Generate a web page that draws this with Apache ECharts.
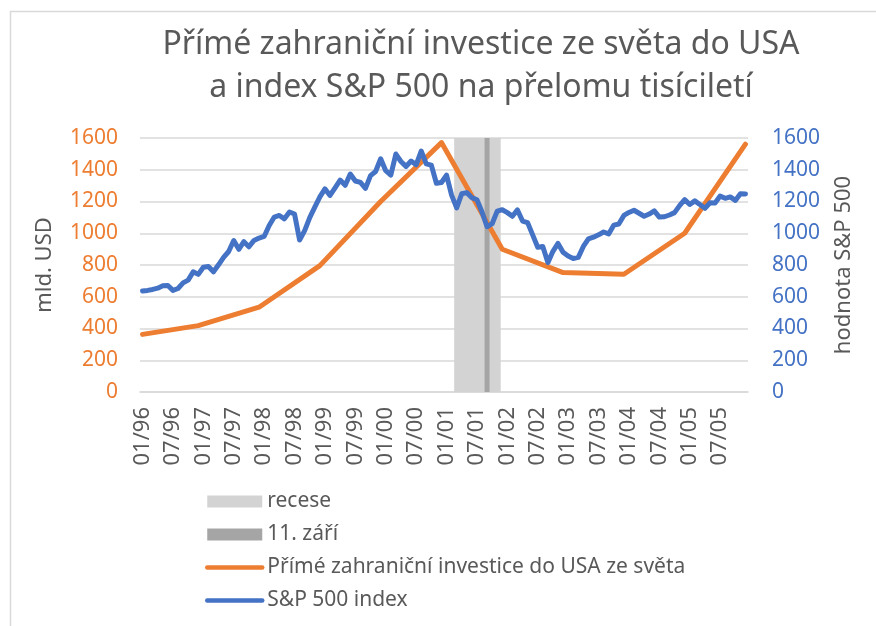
<!DOCTYPE html>
<html>
<head>
<meta charset="utf-8">
<script src="https://cdn.jsdelivr.net/npm/echarts@6/dist/echarts.min.js"></script>
<style>
  html, body { margin: 0; padding: 0; background: #fff; }
  #chart { width: 876px; height: 626px; }
</style>
</head>
<body>
<div id="chart"></div>
<script>
// měsíce 01/96 .. 12/05
var years = ['96', '97', '98', '99', '00', '01', '02', '03', '04', '05'];
var months = [];
years.forEach(function (y) {
  for (var m = 1; m <= 12; m++) months.push((m < 10 ? '0' + m : '' + m) + '/' + y);
});

// S&P 500 - měsíční hodnoty
var sp500 = [
  636, 640, 646, 654, 669, 671, 640, 652, 687, 705, 757, 741,
  786, 791, 757, 801, 848, 885, 954, 899, 947, 915, 955, 970,
  980, 1049, 1102, 1112, 1091, 1134, 1121, 957, 1017, 1099, 1164, 1229,
  1280, 1238, 1286, 1335, 1302, 1373, 1329, 1320, 1283, 1363, 1389, 1469,
  1394, 1366, 1499, 1452, 1421, 1455, 1431, 1518, 1437, 1429, 1315, 1320,
  1366, 1240, 1160, 1249, 1256, 1224, 1211, 1134, 1041, 1060, 1139, 1148,
  1130, 1107, 1147, 1077, 1067, 990, 912, 916, 815, 886, 936, 880,
  856, 841, 848, 917, 964, 975, 990, 1008, 996, 1051, 1058, 1112,
  1131, 1145, 1126, 1107, 1121, 1141, 1102, 1104, 1115, 1130, 1174, 1212,
  1181, 1204, 1181, 1157, 1192, 1191, 1234, 1220, 1229, 1207, 1249, 1248
];

// přímé zahraniční investice (mld. USD) - roční body
var fdiMonths = ['01/96', '12/96', '12/97', '12/98', '12/99', '12/00', '12/01', '12/02', '12/03', '12/04', '12/05'];
var fdiValues = [363, 418, 534, 796, 1200, 1571, 899, 752, 742, 1000, 1561];

// recese a 11. září
var recessionStart = '03/01';
var recessionEnd = '11/01';
var attackMonth = '09/01';
var barTop = 1600;

var fdiData = months.map(function (m) {
  var i = fdiMonths.indexOf(m);
  return i >= 0 ? fdiValues[i] : null;
});
var rs = months.indexOf(recessionStart), re = months.indexOf(recessionEnd);
var recessionData = months.map(function (m, i) { return (i >= rs && i <= re) ? barTop : '-'; });
var attackData = months.map(function (m) { return m === attackMonth ? barTop : '-'; });

var FONT = 'Noto Sans';
var GREY = '#595959';
var hideDot = { color: 'rgba(0,0,0,0)', borderWidth: 0 };
var chart = echarts.init(document.getElementById('chart'));
var option = {
  backgroundColor: '#fff',
  animation: false,
  textStyle: { fontFamily: FONT },
  graphic: [
    { type: 'rect', shape: { x: 10.5, y: 11.5, width: 900, height: 700 },
      style: { fill: 'none', stroke: '#d9d9d9', lineWidth: 1.5 }, silent: true },
    { type: 'text', x: 481, y: 45, style: { text: 'Přímé zahraniční investice ze světa do USA',
      fill: GREY, font: '32px "Noto Sans"', textAlign: 'center', textVerticalAlign: 'middle' } },
    { type: 'text', x: 481, y: 88, style: { text: 'a index S&P 500 na přelomu tisíciletí',
      fill: GREY, font: '32px "Noto Sans"', textAlign: 'center', textVerticalAlign: 'middle' } }
  ],
  grid: { left: 140, right: 128, top: 138, bottom: 234 },
  legend: {
    orient: 'vertical', left: 205, top: 491, height: 140, padding: 0,
    itemWidth: 55, itemHeight: 12, itemGap: 12,
    textStyle: { color: GREY, fontSize: 21, fontFamily: FONT },
    lineStyle: { width: 4.5 },
    data: [
      { name: 'recese', icon: 'rect' },
      { name: '11. září', icon: 'rect' },
      { name: 'Přímé zahraniční investice do USA ze světa', itemStyle: hideDot },
      { name: 'S&P 500 index', itemStyle: hideDot }
    ]
  },
  xAxis: {
    type: 'category', data: months, boundaryGap: true,
    axisLine: { lineStyle: { color: '#d9d9d9', width: 1.5 } },
    axisTick: { show: false },
    axisLabel: { interval: 5, rotate: 90, color: GREY, fontSize: 22, margin: 15, fontFamily: FONT }
  },
  yAxis: [
    {
      type: 'value', min: 0, max: 1600, interval: 200,
      name: 'mld. USD', nameLocation: 'middle', nameGap: 84, nameRotate: 90,
      nameTextStyle: { color: GREY, fontSize: 22, fontFamily: FONT },
      axisLine: { show: false }, axisTick: { show: false },
      axisLabel: { color: '#ED7D31', fontSize: 21, margin: 22, fontFamily: FONT,
        formatter: function (v) { return String(v); } },
      splitLine: { lineStyle: { color: '#d9d9d9', width: 1.5 } }
    },
    {
      type: 'value', min: 0, max: 1600, interval: 200,
      name: 'hodnota S&P 500', nameLocation: 'middle', nameGap: 85, nameRotate: 90,
      nameTextStyle: { color: GREY, fontSize: 22, fontFamily: FONT },
      axisLine: { show: false }, axisTick: { show: false },
      axisLabel: { color: '#4472C4', fontSize: 21, margin: 24, fontFamily: FONT,
        formatter: function (v) { return String(v); } },
      splitLine: { show: false }
    }
  ],
  series: [
    {
      name: 'recese', type: 'bar', data: recessionData, barWidth: 6, barGap: '-100%',
      itemStyle: { color: '#d3d3d3' }, silent: true
    },
    {
      name: '11. září', type: 'bar', data: attackData, barWidth: 5, barGap: '-100%',
      itemStyle: { color: '#a5a5a5' }, silent: true
    },
    {
      name: 'Přímé zahraniční investice do USA ze světa', type: 'line', data: fdiData,
      connectNulls: true, symbol: 'none',
      lineStyle: { color: '#ED7D31', width: 5, cap: 'round', join: 'round' },
      itemStyle: { color: '#ED7D31' }
    },
    {
      name: 'S&P 500 index', type: 'line', yAxisIndex: 1, data: sp500, symbol: 'none',
      lineStyle: { color: '#4472C4', width: 5, cap: 'round', join: 'round' },
      itemStyle: { color: '#4472C4' }
    }
  ]
};
chart.setOption(option);
</script>
</body>
</html>
